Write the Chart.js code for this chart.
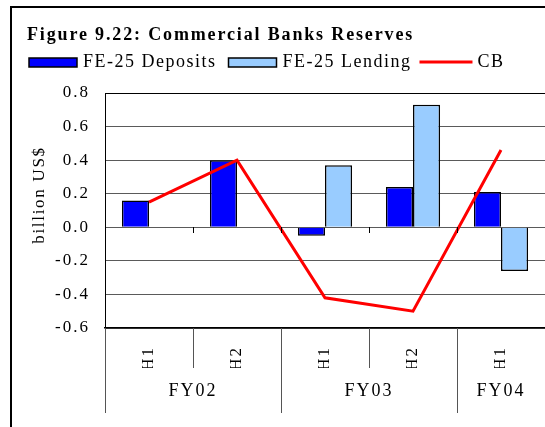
<!DOCTYPE html>
<html>
<head>
<meta charset="utf-8">
<script src="https://cdn.jsdelivr.net/npm/chart.js@4/dist/chart.umd.min.js"></script>
<style>
html, body { margin: 0; padding: 0; background: #fff; }
#wrap { position: relative; width: 545px; height: 427px; overflow: hidden; }
#frame { position: absolute; left: 10px; top: 6px; width: 600px; height: 500px; border: 2px solid #000; }
canvas { position: absolute; left: 0; top: 0; }
</style>
</head>
<body>
<div id="wrap"><div id="frame"></div><canvas id="chart" width="545" height="427"></canvas></div>
<script>
const halves = ['H1', 'H2', 'H1', 'H2', 'H1'];
const years = ['FY02', 'FY03', 'FY04'];
const yearSpans = [2, 2, 1];
const deposits = [0.16, 0.40, -0.05, 0.24, 0.21];
const lending = [null, null, 0.37, 0.73, -0.26];
const cb = [0.15, 0.40, -0.42, -0.50, 0.46];
const yTicks = [-0.6, -0.4, -0.2, 0, 0.2, 0.4, 0.6, 0.8];
const chartTitle = 'Figure 9.22: Commercial Banks Reserves';
const yTitle = 'billion US$';

// year groups: boundaries get a long separator, centers carry the label
let yearBounds = [], yearLabel = {}, pos = -0.5;
yearSpans.forEach((span, i) => {
    yearBounds.push(pos);
    yearLabel[pos + span / 2] = years[i];
    pos += span;
});
yearBounds.push(pos);
const yearCenters = Object.keys(yearLabel).map(Number);

const serif = '"Liberation Serif", "Times New Roman", serif';
Chart.defaults.font.family = serif;
Chart.defaults.color = '#000';

const spacing = {
    id: 'spacing',
    beforeLayout(chart) { chart.ctx.letterSpacing = '2px'; },
    beforeDraw(chart) { chart.ctx.letterSpacing = '2px'; }
};

const header = {
    id: 'header',
    afterDraw(chart) {
        const ctx = chart.ctx;
        ctx.save();
        ctx.fillStyle = '#000';
        ctx.textBaseline = 'alphabetic';
        ctx.textAlign = 'left';
        ctx.letterSpacing = '1.85px';
        ctx.font = 'bold 18px ' + serif;
        ctx.fillText(chartTitle, 27, 40);
        ctx.letterSpacing = '1.5px';
        ctx.font = '18px ' + serif;
        let x = 29;
        chart.data.datasets.forEach(ds => {
            if (ds.type === 'line') {
                ctx.strokeStyle = ds.borderColor;
                ctx.lineWidth = 3;
                ctx.beginPath(); ctx.moveTo(x - 4, 62); ctx.lineTo(x + 49, 62); ctx.stroke();
            } else {
                ctx.fillStyle = ds.backgroundColor;
                ctx.fillRect(x, 58, 48, 9);
                ctx.strokeStyle = '#000'; ctx.lineWidth = 1.5;
                ctx.strokeRect(x, 58, 48, 9);
            }
            x += 54;
            ctx.fillStyle = '#000';
            ctx.fillText(ds.label, x, 67);
            x += ctx.measureText(ds.label).width + 12;
        });
        // y axis title
        ctx.letterSpacing = '1.7px';
        ctx.font = '17px ' + serif;
        ctx.translate(40, 195);
        ctx.rotate(-Math.PI / 2);
        ctx.textAlign = 'center';
        ctx.textBaseline = 'middle';
        ctx.fillText(yTitle, 0, 0);
        ctx.restore();
    }
};

// separators below the plot, plus little ticks under the zero line
const separators = {
    id: 'separators',
    afterDraw(chart) {
        const ctx = chart.ctx, xs = chart.scales.x, x2 = chart.scales.x2, ys = chart.scales.y;
        const y0 = Math.round(ys.getPixelForValue(0));
        const bottom = chart.chartArea.bottom;
        ctx.save();
        ctx.lineWidth = 1;
        for (let i = 0; i <= halves.length; i++) {
            const v = i - 0.5;
            const b = Math.round(x2.getPixelForValue(v)) + 0.5;
            const long = yearBounds.includes(v);
            ctx.strokeStyle = '#555';
            ctx.beginPath();
            ctx.moveTo(b, bottom);
            ctx.lineTo(b, long ? x2.bottom : xs.bottom);
            ctx.stroke();
            if (i > 0 && i < halves.length) {
                ctx.strokeStyle = '#000';
                ctx.beginPath(); ctx.moveTo(b, y0); ctx.lineTo(b, y0 + 6); ctx.stroke();
            }
        }
        ctx.restore();
    }
};

new Chart(document.getElementById('chart'), {
    type: 'bar',
    data: {
        labels: halves,
        datasets: [
            { type: 'bar', label: 'FE-25 Deposits', data: deposits, backgroundColor: '#0000ff', borderColor: '#000', borderWidth: 1.5, order: 1 },
            { type: 'bar', label: 'FE-25 Lending', data: lending, backgroundColor: '#99ccff', borderColor: '#000', borderWidth: 1.5, order: 1 },
            { type: 'line', label: 'CB', data: cb, borderColor: '#ff0000', backgroundColor: '#ff0000', borderWidth: 3, pointRadius: 0, tension: 0, order: 0 }
        ]
    },
    options: {
        responsive: false,
        animation: false,
        events: [],
        categoryPercentage: 0.615,
        barPercentage: 1,
        layout: { padding: { top: 93, bottom: 14, left: 0, right: 0 } },
        plugins: { legend: { display: false }, title: { display: false }, tooltip: { enabled: false } },
        scales: {
            y: {
                min: -0.6, max: 0.8,
                afterBuildTicks: s => { s.ticks = yTicks.map(v => ({ value: v })); },
                afterFit: s => { s.width = 105; },
                ticks: { font: { size: 17 }, padding: 15, callback: v => Math.abs(v) < 1e-9 ? '0.0' : v.toFixed(1) },
                grid: { color: c => (c.tick && c.tick.value === 0.8) ? '#000' : '#5a5a5a', lineWidth: 1, drawTicks: false },
                border: { color: '#000', width: 1 }
            },
            x: {
                weight: 0,
                afterFit: s => { s.height = 40; },
                ticks: { font: { size: 17 }, minRotation: 90, maxRotation: 90, autoSkip: false, padding: 18 },
                grid: { drawOnChartArea: false, drawTicks: false },
                border: { color: '#000', width: 1.5 }
            },
            x2: {
                type: 'linear',
                position: 'bottom',
                weight: 1,
                offset: false,
                min: -0.5, max: 4.5,
                afterBuildTicks: s => { s.ticks = yearCenters.map(v => ({ value: v })); },
                afterFit: s => { s.height = 45; },
                ticks: { font: { size: 18 }, autoSkip: false, maxRotation: 0, padding: 4, callback: v => yearLabel[v] || '' },
                grid: { display: false, offset: false },
                border: { display: false }
            }
        }
    },
    plugins: [spacing, header, separators]
});
</script>
</body>
</html>
